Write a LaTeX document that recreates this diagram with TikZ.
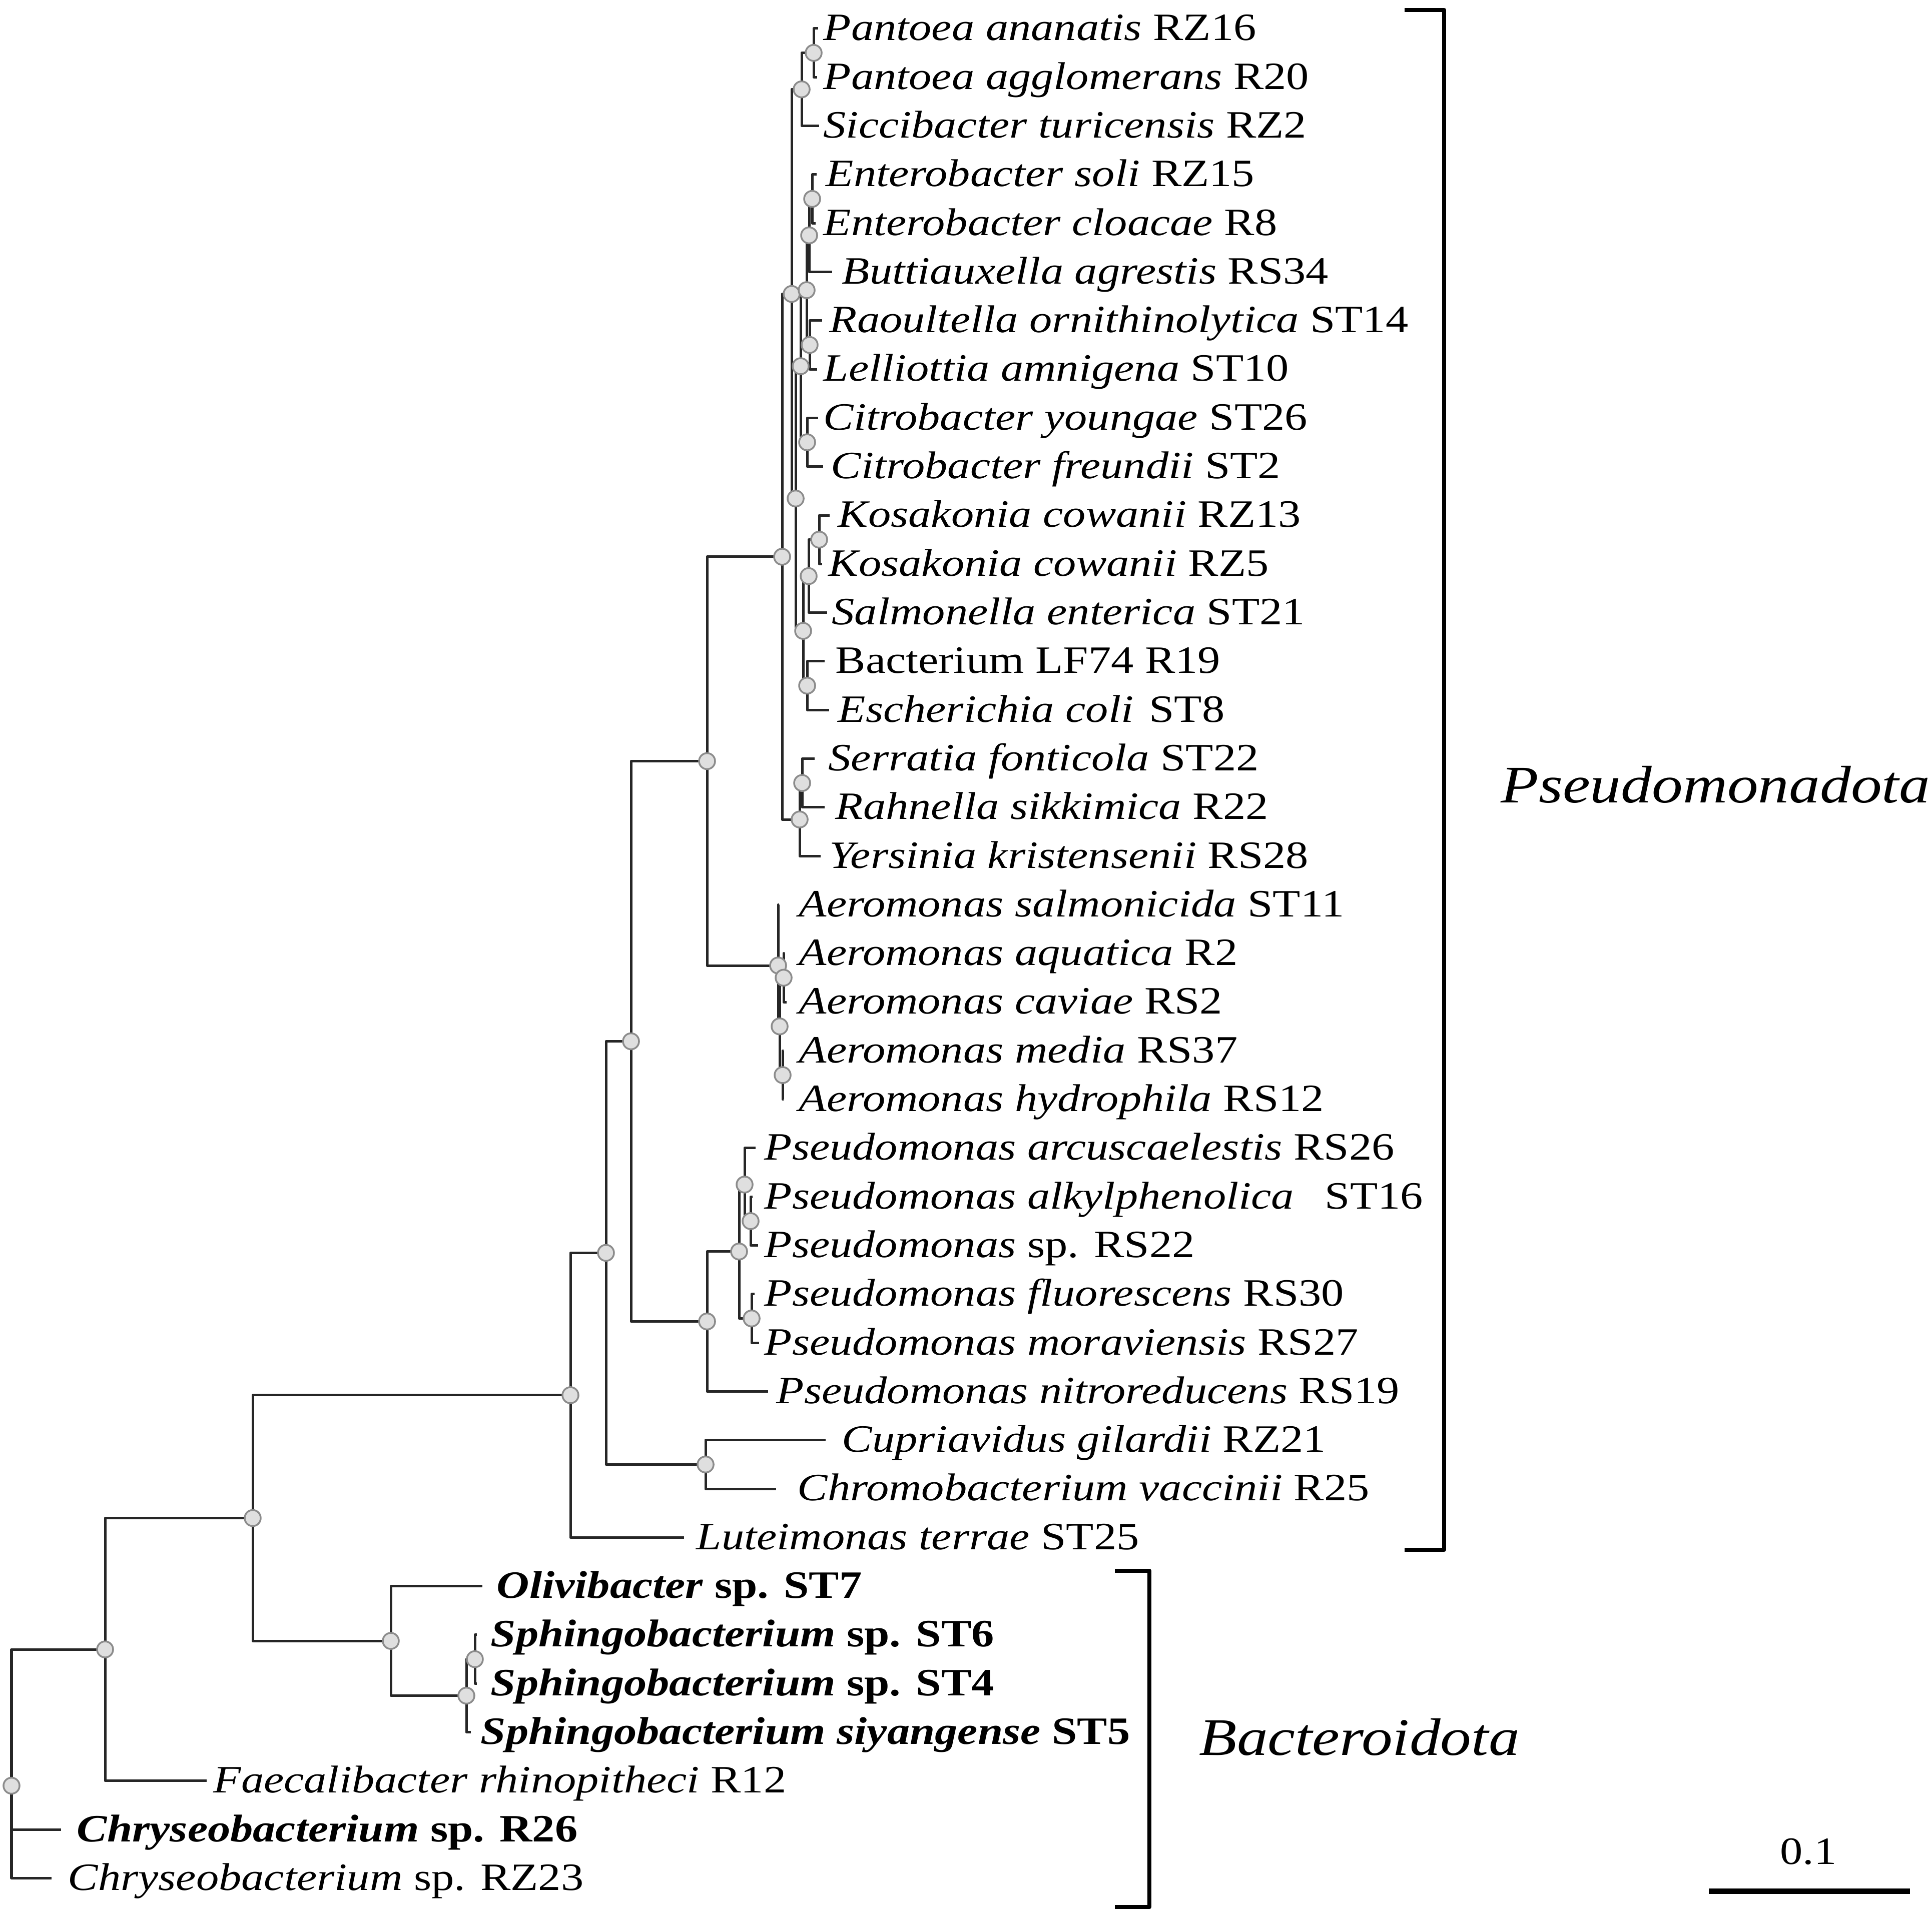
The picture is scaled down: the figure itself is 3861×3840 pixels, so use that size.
\documentclass[tikz,border=0pt]{standalone}
\usepackage{fontspec}
\setmainfont{Liberation Serif}[FakeStretch=1.17]
\begin{document}
\begin{tikzpicture}[x=0.01cm,y=-0.01cm,line join=round,
  br/.style={draw=black!85,line width=0.5mm},
  bsn/.style={circle,draw=gray!90,fill=gray!25,line width=0.35mm,inner sep=0,minimum size=3.2mm},
  leaf/.style={anchor=mid west,inner sep=0,yshift=-4.5pt,font=\fontsize{22}{26}\selectfont},
  clade/.style={anchor=west,inner sep=0,font=\fontsize{30}{36}\selectfont\itshape},
  brk/.style={draw=black,line width=0.8mm}]
\useasboundingbox (0,0) rectangle (3861,3840);
\def\dy{97.3} % leaf spacing
% leaves: tip x / label x / text
\foreach \tx/\lx/\lab [count=\i] in {
  1635/1645/{\textit{Pantoea ananatis} RZ16},
  1633/1645/{\textit{Pantoea agglomerans} R20},
  1637/1645/{\textit{Siccibacter turicensis} RZ2},
  1632/1650/{\textit{Enterobacter soli} RZ15},
  1630/1645/{\textit{Enterobacter cloacae} R8},
  1663/1682/{\textit{Buttiauxella agrestis} RS34},
  1643/1657/{\textit{Raoultella ornithinolytica} ST14},
  1633/1645/{\textit{Lelliottia amnigena} ST10},
  1635/1645/{\textit{Citrobacter youngae} ST26},
  1645/1660/{\textit{Citrobacter freundii} ST2},
  1658/1674/{\textit{Kosakonia cowanii} RZ13},
  1643/1655/{\textit{Kosakonia cowanii} RZ5},
  1653/1662/{\textit{Salmonella enterica} ST21},
  1648/1669/{Bacterium LF74 R19},
  1657/1674/{\textit{Escherichia coli}\hspace{.4em}ST8},
  1628/1655/{\textit{Serratia fonticola} ST22},
  1648/1669/{\textit{Rahnella sikkimica} R22},
  1640/1657/{\textit{Yersinia kristensenii} RS28},
  1557/1596/{\textit{Aeromonas salmonicida} ST11},
  1568/1596/{\textit{Aeromonas aquatica} R2},
  1572/1596/{\textit{Aeromonas caviae} RS2},
  1566/1596/{\textit{Aeromonas media} RS37},
  1566/1596/{\textit{Aeromonas hydrophila} RS12},
  1510/1527/{\textit{Pseudomonas arcuscaelestis} RS26},
  1504/1527/{\textit{Pseudomonas alkylphenolica}\hspace{.8em}ST16},
  1515/1527/{\textit{Pseudomonas} sp. RS22},
  1508/1527/{\textit{Pseudomonas fluorescens} RS30},
  1517/1527/{\textit{Pseudomonas moraviensis} RS27},
  1535/1551/{\textit{Pseudomonas nitroreducens} RS19},
  1650/1682/{\textit{Cupriavidus gilardii} RZ21},
  1551/1593/{\textit{Chromobacterium vaccinii} R25},
  1367/1391/{\textit{Luteimonas terrae} ST25},
  964/992/{\textbf{\textit{Olivibacter} sp. ST7}},
  953/980/{\textbf{\textit{Sphingobacterium} sp. ST6}},
  953/980/{\textbf{\textit{Sphingobacterium} sp. ST4}},
  941/960/{\textbf{\textit{Sphingobacterium siyangense} ST5}},
  413/426/{\textit{Faecalibacter rhinopitheci} R12},
  122/153/{\textbf{\textit{Chryseobacterium} sp. R26}},
  103/135/{\textit{Chryseobacterium} sp. RZ23}}{
  \coordinate (L\i) at (\tx,{57+(\i-1)*\dy});
  \node[leaf] (T\i) at (\lx,{57+(\i-1)*\dy}) {\lab};
}
% inner nodes
\coordinate (R0) at (23,3569.5);
\coordinate (NB) at (210,3297.1);
\coordinate (NC) at (505,3034.5);
\coordinate (NBac) at (781,3280.1);
\coordinate (SP) at (932,3389.5);
\coordinate (SP2) at (949,3316.6);
\coordinate (P0) at (1140,2788.9);
\coordinate (NQ) at (1211,2504.4);
\coordinate (NCC) at (1410,2927.4);
\coordinate (NR) at (1261,2081.5);
\coordinate (NE) at (1413,1521.5);
\coordinate (PN) at (1413,2641.5);
\coordinate (PS) at (1477,2501.7);
\coordinate (PA) at (1488,2367.9);
\coordinate (PA2) at (1500,2440.9);
\coordinate (PF) at (1502,2635.5);
\coordinate (AR) at (1555,1930);
\coordinate (NA2) at (1558,2051.7);
\coordinate (NA3) at (1566,1954.4);
\coordinate (NA4) at (1564,2149);
\coordinate (RE) at (1563,1112.9);
\coordinate (N1) at (1582,587.6);
\coordinate (A2) at (1602,178.6);
\coordinate (A1) at (1626,105.7);
\coordinate (M) at (1590,996.5);
\coordinate (Q) at (1600,732);
\coordinate (C) at (1612,580);
\coordinate (B) at (1617,470.5);
\coordinate (EP) at (1623,397.6);
\coordinate (RL) at (1618,689.5);
\coordinate (CT) at (1613,884.1);
\coordinate (Z) at (1605,1261.1);
\coordinate (KS) at (1616,1151.6);
\coordinate (KP) at (1637,1078.7);
\coordinate (BE) at (1613,1370.6);
\coordinate (S) at (1598,1638.1);
\coordinate (SR) at (1603,1565.2);
% branches
\foreach \p/\c in {R0/NB,R0/L38,R0/L39,NB/NC,NB/L37,NC/P0,NC/NBac,
  NBac/L33,NBac/SP,SP/SP2,SP/L36,SP2/L34,SP2/L35,
  P0/NQ,P0/L32,NQ/NR,NQ/NCC,NCC/L30,NCC/L31,NR/NE,NR/PN,
  PN/PS,PN/L29,PS/PA,PS/PF,PA/L24,PA/PA2,PA2/L25,PA2/L26,PF/L27,PF/L28,
  NE/RE,NE/AR,AR/L19,AR/NA2,NA2/NA3,NA2/NA4,NA3/L20,NA3/L21,NA4/L22,NA4/L23,
  RE/N1,RE/S,N1/A2,N1/M,A2/A1,A2/L3,A1/L1,A1/L2,
  M/Q,M/Z,Q/C,Q/CT,C/B,C/RL,B/EP,B/L6,EP/L4,EP/L5,RL/L7,RL/L8,CT/L9,CT/L10,
  Z/KS,Z/BE,KS/KP,KS/L13,KP/L11,KP/L12,BE/L14,BE/L15,
  S/SR,S/L18,SR/L16,SR/L17}
  \draw[br] (\p) |- (\c);
\foreach \n in {R0,NB,NC,NBac,SP,SP2,P0,NQ,NCC,NR,NE,PN,PS,PA,PA2,PF,
  AR,NA2,NA3,NA4,RE,N1,A2,A1,M,Q,C,B,EP,RL,CT,Z,KS,KP,BE,S,SR}
  \node[bsn] (c\n) at (\n) {};
% clades
\draw[brk] (2807,20) -- (2886,20) -- (2886,3098) -- (2807,3098);
\node[clade] (pseudo) at (2999,1569) {Pseudomonadota};
\draw[brk] (2228,3140) -- (2297,3140) -- (2297,3812) -- (2228,3812);
\node[clade] (bacto) at (2396,3472) {Bacteroidota};
% scale bar
\coordinate (s1) at (3415,3780);
\coordinate (s2) at (3817,3780);
\draw[line width=1.1mm] (s1) -- (s2);
\node[font=\fontsize{22}{26}\selectfont] (sl) at (3614,3701) {0.1};
\end{tikzpicture}
\end{document}
